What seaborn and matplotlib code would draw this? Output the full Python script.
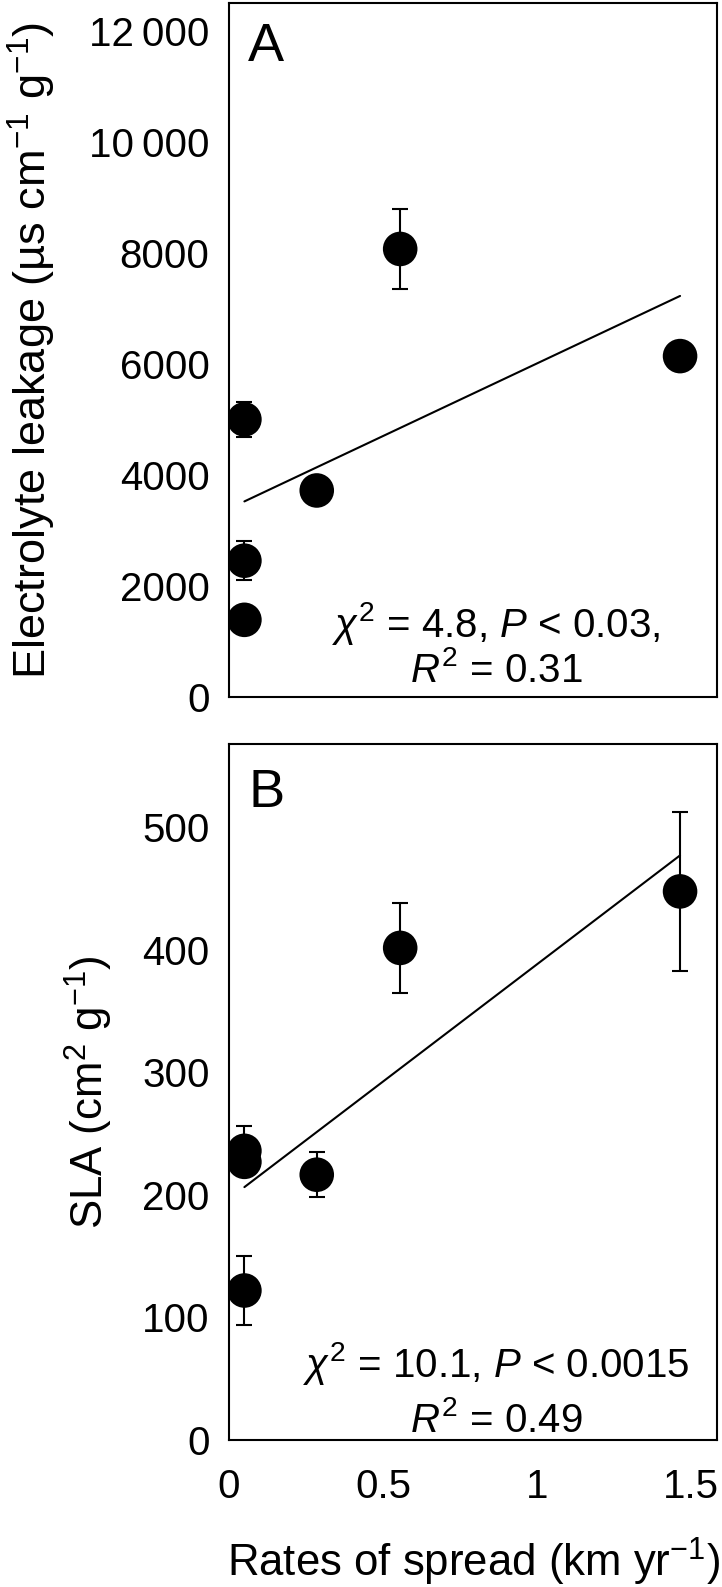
import numpy as np
import matplotlib
matplotlib.use("Agg")
import matplotlib.pyplot as plt
import seaborn as sns

# spread rate of each population (km/yr)
spread = [0.05, 0.05, 0.05, 0.285, 0.556, 1.465]

# A: electrolyte leakage
leak = [5000, 2455, 1390, 3720, 8070, 6140]
leak_err = [320, 355, 200, 200, 715, 250]

# B: specific leaf area
sla = [236, 227, 122, 216.5, 401.6, 447.7]
sla_err = [20, 10, 28, 18.5, 37, 65]

leak_ticks = [0, 2000, 4000, 6000, 8000, 10000, 12000]
leak_ticklabels = ["0", "2000", "4000", "6000", "8000", "10\u2009000", "12\u2009000"]
sla_ticks = [0, 100, 200, 300, 400, 500]
x_ticks = [0, 0.5, 1, 1.5]
x_ticklabels = ["0", "0.5", "1", "1.5"]

stats_a = [r"$\chi^{2}$ = 4.8, $P$ < 0.03,", r"$R^{2}$ = 0.31"]
stats_b = [r"$\chi^{2}$ = 10.1, $P$ < 0.0015", r"$R^{2}$ = 0.49"]

sns.set_style("white")
plt.rcParams["font.family"] = ["Liberation Sans", "DejaVu Sans"]
plt.rcParams["mathtext.fontset"] = "custom"
plt.rcParams["mathtext.rm"] = "Liberation Sans"
plt.rcParams["mathtext.it"] = "Liberation Sans:italic"
plt.rcParams["mathtext.bf"] = "Liberation Sans:bold"
plt.rcParams["mathtext.sf"] = "Liberation Sans"
for k in ["text.color", "axes.labelcolor", "xtick.color", "ytick.color"]:
    plt.rcParams[k] = "black"

W, H = 722, 1587
fig = plt.figure(figsize=(W / 100, H / 100), dpi=100)
left, right = 229 / W, 717 / W
ax_a = fig.add_axes([left, 1 - 697 / H, right - left, (697 - 3) / H])
ax_b = fig.add_axes([left, 1 - 1440 / H, right - left, (1440 - 744) / H])

tick_fs = 29
label_fs = 31.5


def panel(ax, y, yerr, ylim, letter, letter_y, stats, stat_y):
    ax.errorbar(spread, y, yerr=yerr, fmt="none", ecolor="black",
                elinewidth=1.5, capsize=6, capthick=1.5, zorder=2)
    sns.regplot(x=np.array(spread), y=np.array(y), scatter=False, ci=None,
                color="black", line_kws={"lw": 1.5, "zorder": 3}, ax=ax)
    sns.scatterplot(x=spread, y=y, s=620, color="black", edgecolor="none",
                    zorder=4, ax=ax, legend=False)
    ax.set_xlim(0, 1.585)
    ax.set_ylim(*ylim)
    for sp in ax.spines.values():
        sp.set_visible(True)
        sp.set_color("black")
        sp.set_linewidth(1.5)
    ax.tick_params(length=0, labelsize=tick_fs, pad=14)
    ax.text(0.039, letter_y, letter, transform=ax.transAxes, fontsize=39,
            ha="left", va="baseline")
    for s, yy in zip(stats, stat_y):
        ax.text(0.548, yy, s, transform=ax.transAxes, fontsize=tick_fs,
                ha="center", va="baseline")


panel(ax_a, leak, leak_err, (0, 12500), "A", 0.917, stats_a, [0.086, 0.021])
panel(ax_b, sla, sla_err, (0, 568), "B", 0.909, stats_b, [0.091, 0.012])

ax_a.set_yticks(leak_ticks)
ax_a.set_yticklabels(leak_ticklabels)
ax_a.set_xticks(x_ticks)
ax_a.set_xticklabels([])
ax_a.set_ylabel(r"Electrolyte leakage (µs cm$^{-1}$ g$^{-1}$)", fontsize=32.5)
ax_a.yaxis.set_label_coords(-0.351, 0.5)

ax_b.set_yticks(sla_ticks)
ax_b.set_xticks(x_ticks)
ax_b.set_xticklabels(x_ticklabels)
ax_b.tick_params(axis="x", pad=20)
ax_b.set_ylabel(r"SLA (cm$^{2}$ g$^{-1}$)", fontsize=label_fs)
ax_b.yaxis.set_label_coords(-0.234, 0.5)
ax_b.set_xlabel(r"Rates of spread (km yr$^{-1}$)", fontsize=label_fs)
ax_b.xaxis.set_label_coords(0.5, -0.138)

fig.savefig("out.png", dpi=100)
